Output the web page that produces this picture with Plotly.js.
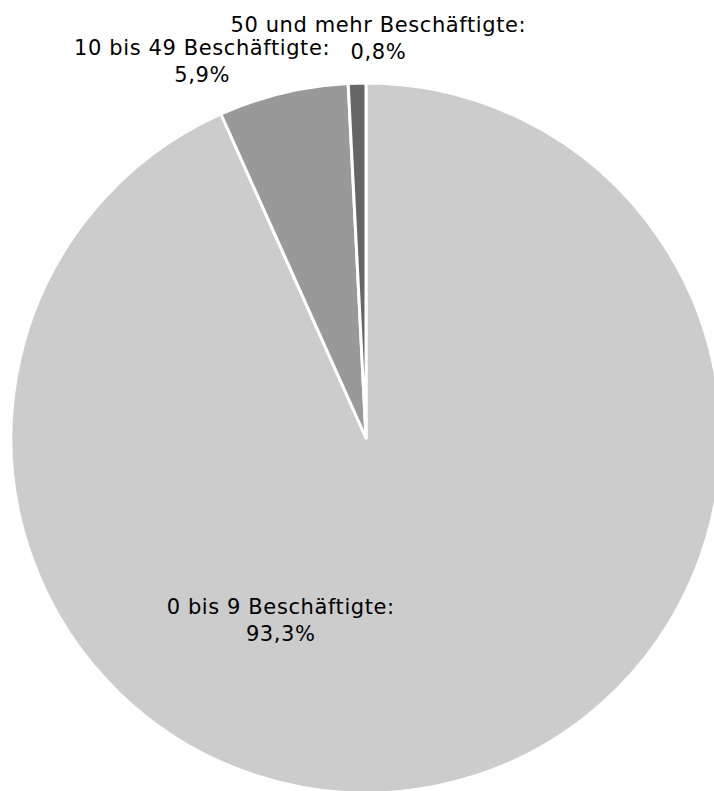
<!DOCTYPE html>
<html>
<head>
<meta charset="utf-8">
<script src="https://cdn.plot.ly/plotly-3.0.1.min.js"></script>
<style>
html,body{margin:0;padding:0;overflow:hidden;background:#fff;width:714px;height:791px;}
#chart{width:740px;height:800px;}
#chart .annotation-text{letter-spacing:0.6px;}
</style>
</head>
<body>
<div id="chart"></div>
<script>
const categories = ["0 bis 9 Beschäftigte", "10 bis 49 Beschäftigte", "50 und mehr Beschäftigte"];
const shares = [93.3, 5.9, 0.8];
const sliceColors = ["#cccccc", "#999999", "#666666"];
const labelX = [281, 202, 378];
const labelY = [620, 61, 39];

const W = 740, H = 800;
const fmt = v => v.toFixed(1).replace(".", ",") + "%";

const trace = {
  type: "pie",
  labels: categories,
  values: shares,
  sort: false,
  direction: "clockwise",
  rotation: 0,
  textinfo: "none",
  hoverinfo: "label+percent",
  marker: {colors: sliceColors, line: {color: "#ffffff", width: 3}},
  domain: {x: [11 / W, 721 / W], y: [(H - 438 - 355) / H, (H - 438 + 355) / H]},
  showlegend: false
};

const annotations = categories.map((c, i) => ({
  xref: "paper", yref: "paper",
  x: labelX[i] / W, y: 1 - labelY[i] / H,
  xanchor: "center", yanchor: "middle",
  text: c + ":<br>" + fmt(shares[i]),
  showarrow: false,
  align: "center",
  font: {family: "DejaVu Sans", size: 21, color: "#000000"}
}));

Plotly.newPlot("chart", [trace], {
  width: W, height: H,
  margin: {l: 0, r: 0, t: 0, b: 0},
  paper_bgcolor: "#ffffff",
  annotations: annotations
}, {staticPlot: true});
</script>
</body>
</html>
